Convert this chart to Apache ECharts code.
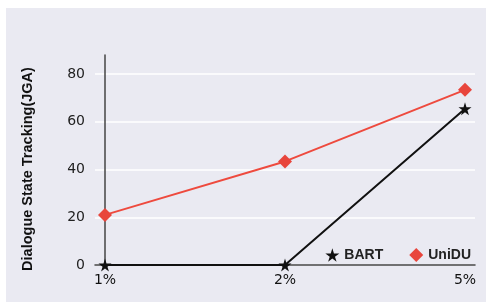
<!DOCTYPE html>
<html>
<head>
<meta charset="utf-8">
<script src="https://cdn.jsdelivr.net/npm/echarts@6/dist/echarts.min.js"></script>
<style>
  html, body { margin: 0; padding: 0; background: #fff; }
  #chart { width: 486px; height: 303px; }
</style>
</head>
<body>
<div id="chart"></div>
<script>
// 数据
const categories = ['1%', '2%', '5%'];
const bartValues = [0, 0, 65.5];
const unidValues = [21, 43.4, 73.4];
const yTicks = [0, 20, 40, 60, 80];

const starPath = 'path://M50,0 L61,35 L98,35 L68,57 L79,91 L50,70 L21,91 L32,57 L2,35 L39,35 Z';

let chart = echarts.init(document.getElementById('chart'));
let option = {
  animation: false,
  graphic: [
    {
      type: 'rect',
      z: -10,
      silent: true,
      shape: { x: 6, y: 8, width: 480, height: 294 },
      style: { fill: '#eaeaf2' }
    }
  ],
  grid: {
    left: 95,
    right: 11,
    top: 55,
    bottom: 38
  },
  legend: {
    right: 10,
    top: 243,
    itemGap: 26,
    itemWidth: 14,
    itemHeight: 14,
    textStyle: {
      color: '#222',
      fontSize: 14,
      fontWeight: 'bold',
      fontFamily: 'Liberation Sans'
    },
    data: [
      { name: 'BART', icon: starPath },
      { name: 'UniDU', icon: 'diamond' }
    ]
  },
  xAxis: {
    type: 'value',
    min: -10 / 180,
    max: 2 + 10 / 180,
    splitLine: { show: false },
    axisTick: { show: false },
    // 坐标轴颜色
    axisLine: {
      lineStyle: { color: '#444', width: 1.5 }
    },
    axisLabel: {
      customValues: [0, 1, 2],
      formatter: (v) => categories[Math.round(v)],
      color: '#111',
      fontSize: 14,
      margin: 8,
      fontFamily: 'DejaVu Sans'
    }
  },
  yAxis: {
    type: 'value',
    min: 0,
    max: 88,
    interval: 20,
    name: 'Dialogue State Tracking(JGA)',
    nameLocation: 'middle',
    nameRotate: 90,
    nameGap: 60,
    nameTextStyle: {
      color: '#111',
      fontSize: 14.5,
      fontWeight: 'bold',
      fontFamily: 'Liberation Sans',
      padding: [0, 18, 0, 0]
    },
    axisLine: {
      show: true,
      onZero: true,
      lineStyle: { color: '#444', width: 1.5 }
    },
    axisTick: { show: false },
    axisLabel: {
      color: '#222',
      fontSize: 14,
      margin: 10,
      fontFamily: 'DejaVu Sans',
      showMaxLabel: false,
      formatter: (v) => (yTicks.indexOf(v) >= 0 ? String(v) : '')
    },
    // 分隔线
    splitLine: {
      lineStyle: {
        color: ['#fff', '#fff', '#fff', '#fff', '#fff', 'rgba(0,0,0,0)'],
        width: 1.5
      }
    }
  },
  series: [
    {
      name: 'BART',
      type: 'line',
      data: bartValues.map((v, i) => [i, v]),
      symbol: starPath,
      symbolSize: 13,
      itemStyle: { color: '#111' },
      lineStyle: { color: '#111', width: 2 }
    },
    {
      name: 'UniDU',
      type: 'line',
      data: unidValues.map((v, i) => [i, v]),
      symbol: 'diamond',
      symbolSize: 14,
      itemStyle: { color: '#e8453c' },
      lineStyle: { color: '#ee4a3e', width: 2 }
    }
  ]
};
chart.setOption(option);
</script>
</body>
</html>
